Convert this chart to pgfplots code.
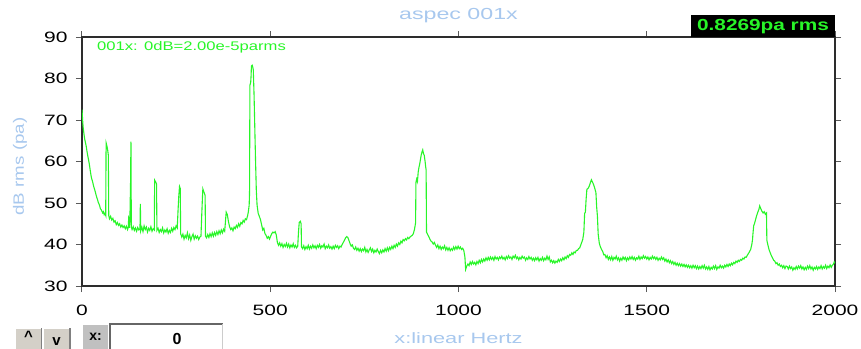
\documentclass[border=0pt]{standalone}
\usepackage{pgfplots}
\pgfplotsset{compat=1.18}
\usepackage{fontspec}
\setmainfont{Liberation Sans}
\newfontfamily\tickfont[FakeStretch=1.4]{Liberation Sans}
\newfontfamily\labelfont[FakeStretch=1.45]{Liberation Sans}
\newfontfamily\ylabfont[FakeStretch=1.25]{Liberation Sans}
\newfontfamily\notefont[FakeStretch=1.33]{Liberation Sans}
\newfontfamily\rmsfont[FakeStretch=1.3]{Liberation Sans Bold}
\newfontfamily\btnfont{Liberation Sans Bold}

\definecolor{trace}{RGB}{40,245,40}
\definecolor{labelblue}{RGB}{168,200,238}
\definecolor{frame}{RGB}{45,45,45}
\definecolor{tickgray}{RGB}{90,90,90}
\definecolor{btn}{RGB}{212,208,200}
\definecolor{lbl}{RGB}{192,192,192}

\begin{document}
\begin{tikzpicture}
\path[use as bounding box] (-82bp,-63bp) rectangle (779bp,286bp);
\begin{axis}[
  at={(0,0)}, anchor=south west,
  scale only axis, width=753bp, height=249bp,
  xmin=0, xmax=2000, ymin=30, ymax=90,
  xtick={0,500,...,2000}, ytick={30,40,...,90},
  tick align=outside, major tick length=6bp,
  axis line style={draw=frame, line width=1.5bp},
  tick style={draw=tickgray, line width=1bp},
  /pgf/number format/assume math mode=true,
  /pgf/number format/set thousands separator={},
  ticklabel style={font=\tickfont\fontsize{15bp}{15bp}\selectfont, text=black},
  xticklabel style={yshift=-10bp},
  yticklabel style={xshift=-5bp},
  title={aspec 001x},
  title style={at={(axis description cs:0.5,1.062)}, anchor=center,
    font=\labelfont\fontsize{16bp}{16bp}\selectfont, text=labelblue},
  xlabel={x:linear Hertz},
  xlabel style={at={(axis description cs:0.5,-0.209)}, anchor=center,
    font=\labelfont\fontsize{15bp}{15bp}\selectfont, text=labelblue},
  ylabel={dB rms (pa)},
  ylabel style={at={(axis description cs:-0.0823,0.48)}, anchor=center, rotate=0,
    font=\ylabfont\fontsize{15bp}{15bp}\selectfont, text=labelblue},
]
\addplot[trace, line width=1.1bp, mark=none] coordinates {
(0,72.5)(1,71.0)(2,69.5)(3,68.3)(5,66.8)(7,65.5)(9,64.6)(11,63.8)(13,62.6)(15,61.5)(17,60.6)(19,59.6)(21,58.4)(23,57.2)(25,56.1)(27,55.5)(29,54.8)(31,54.0)(33,53.4)(35,52.8)(37,52.1)(39,51.4)(41,50.9)(43,50.2)(45,49.8)(47,49.3)(49,48.6)(51,48.4)(53,48.0)(55,47.6)(57,47.9)(59,47.2)(61,47.5)(63,47.0)
(64,64.5)(66,63.8)(68,62.9)(70,61.5)(71,47.0)
(73,46.2)(76,46.8)(79,45.9)(82,46.3)(85,45.4)(88,45.7)(91,44.8)(94,45.3)(97,44.6)(100,45.0)(103,44.2)(106,44.7)(109,44.1)(112,44.5)(115,43.8)(118,44.4)(121,43.6)(123,44.2)(124,46.5)(125,46.3)(126,44.0)(127,45.0)(129,55.0)(130,64.8)(131,44.2)
(133,43.6)(136,44.3)(139,43.4)(142,44.0)(145,43.2)(148,44.1)(151,43.5)(154,43.8)(155,49.8)(156,43.3)(159,44.2)(162,43.1)(165,44.5)(168,43.6)(171,44.2)(174,43.0)(177,43.9)(180,43.4)(183,44.3)(186,43.2)(189,43.8)(192,43.5)
(193,55.5)(196,55.0)(198,54.6)(199,43.4)(202,43.9)(205,42.9)(208,43.6)(211,43.1)(214,44.0)(217,42.8)(220,43.5)(223,43.0)(226,43.8)(229,42.7)(232,43.4)(235,42.9)(238,43.9)(241,43.2)(244,44.1)(247,43.6)(250,44.5)(253,44.0)
(255,48.0)(257,51.5)(259,54.0)(261,53.5)(262,42.6)(265,41.8)(268,42.5)(271,41.3)(274,42.2)(277,41.6)(280,42.8)(283,41.4)(286,42.3)(289,41.0)(292,41.9)(295,42.5)(298,41.3)(301,42.1)(304,41.5)(307,42.0)(310,41.2)(313,41.8)
(316,42.0)(318,47.0)(320,51.5)(321,53.4)(324,52.6)(327,51.8)(328,42.0)(331,41.6)(334,42.4)(337,41.7)(340,42.6)(343,41.9)(346,42.8)(349,42.0)(352,42.9)(355,42.2)(358,43.1)(361,42.4)(364,43.3)(367,42.6)(370,43.5)(373,42.8)(376,43.7)
(379,43.2)(381,45.5)(383,47.8)(386,47.2)(389,45.5)(392,44.3)(395,43.6)(398,44.0)(401,43.3)(404,44.2)(407,43.8)(410,44.6)(413,44.1)(416,45.0)(419,44.4)(422,45.3)(425,45.0)(428,45.8)(431,45.4)(434,46.2)(437,46.0)(440,47.0)(442,48.0)(444,49.5)
(445,52.4)(446,78.4)(448,79.0)(449,80.5)(450,83.0)(452,83.2)(454,82.6)(455,82.0)(457,76.0)(459,68.0)(461,60.0)(463,53.0)(465,49.5)(468,47.5)(471,46.8)(474,46.0)
(477,44.8)(480,43.5)(483,43.9)(486,42.6)(489,42.2)(492,41.5)(495,41.9)(498,41.3)(501,42.0)(504,42.6)(507,43.0)(510,42.8)(513,43.1)(516,42.3)(519,40.5)(522,39.8)(525,40.4)(528,39.6)(531,40.2)(534,39.3)(537,40.0)(540,39.5)(543,40.3)(546,39.4)(549,40.1)(552,39.2)(555,39.9)(558,39.4)(561,40.2)(564,39.3)(567,39.8)(570,39.2)(573,39.6)
(575,43.0)(577,45.3)(580,45.6)(582,45.0)(583,39.4)(586,39.0)(589,39.7)(592,38.8)(595,39.5)(598,39.0)(601,39.8)(604,38.9)(607,39.6)(610,39.1)(613,39.9)(616,39.2)(619,39.7)(622,39.0)(625,39.8)(628,39.3)(631,40.0)(634,39.1)(637,39.7)(640,39.4)(643,40.1)(646,39.0)(649,39.6)(652,39.2)(655,39.9)(658,39.1)(661,39.5)(664,38.9)(667,39.6)(670,39.0)(673,39.8)(676,39.3)(679,39.7)(682,39.0)(685,39.6)(688,39.4)
(691,40.0)(694,40.5)(697,41.0)(700,41.6)(703,41.9)(706,41.7)(709,41.0)(712,40.2)(715,39.6)(718,39.9)(721,39.1)(724,38.8)(727,39.4)(730,38.6)(733,39.1)(736,38.4)(739,39.0)(742,38.3)(745,38.9)(748,38.5)(751,39.3)(754,38.2)(757,38.8)(760,38.1)(763,38.7)(766,39.2)(769,38.3)(772,38.9)(775,38.0)(778,38.6)(781,38.2)(784,38.9)(787,38.3)(790,37.8)(793,38.6)(796,38.0)(799,38.7)(802,38.2)(805,39.0)(808,38.4)(811,39.2)(814,38.5)(817,39.3)(820,38.8)(823,39.6)(826,39.0)(829,39.8)(832,39.3)(835,40.1)(838,39.6)(841,40.4)(844,40.0)(847,40.8)(850,40.4)(853,41.2)(856,40.9)(859,41.4)(862,41.1)(865,41.7)(868,41.4)(871,41.8)(874,42.0)(877,42.2)(880,42.6)(883,43.6)(886,45.2)
(887,55.0)(889,55.8)(891,55.2)(893,57.5)(895,58.6)(897,59.4)(899,60.5)(901,61.6)(903,62.3)(905,62.8)(907,61.9)(909,61.5)(911,60.2)(913,58.6)(914,58.0)(915,43.0)(918,42.4)(921,41.9)(924,41.3)(927,40.8)(930,40.6)(933,40.1)(936,40.5)(939,39.8)(942,39.3)(945,39.9)(948,39.0)(951,39.6)(954,38.8)(957,39.4)(960,39.0)(963,39.7)(966,38.7)(969,39.3)(972,38.6)(975,39.2)(978,38.5)(981,39.0)(984,38.6)(987,39.4)(990,38.8)(993,39.5)(996,38.9)(999,39.6)(1002,39.0)(1005,39.4)(1008,38.8)(1011,39.1)(1014,38.6)
(1017,37.0)(1019,34.0)(1022,34.8)(1025,35.3)(1028,34.9)(1031,35.8)(1034,35.2)(1037,35.9)(1040,35.3)(1043,35.7)(1046,35.1)(1049,35.9)(1052,35.4)(1055,36.2)(1058,35.6)(1061,36.4)(1064,35.8)(1067,36.5)(1070,36.0)(1073,36.8)(1076,36.2)(1079,36.9)(1082,36.3)(1085,37.0)(1088,36.4)(1091,36.9)(1094,36.2)(1097,37.1)(1100,36.5)(1103,36.9)(1106,36.3)(1109,37.0)(1112,36.6)(1115,37.2)(1118,36.5)(1121,36.9)(1124,36.3)(1127,37.1)(1130,36.6)(1133,37.3)(1136,36.7)(1139,37.0)(1142,36.4)(1145,37.2)(1148,36.8)(1151,37.4)(1154,36.6)(1157,37.0)(1160,36.3)(1163,36.9)(1166,36.5)(1169,37.2)(1172,36.7)(1175,37.0)(1178,36.2)(1181,36.8)(1184,36.4)(1187,37.1)(1190,36.5)(1193,36.9)(1196,36.2)(1199,36.7)
(1202,36.1)(1205,36.8)(1208,36.3)(1211,36.9)(1214,36.0)(1217,36.6)(1220,36.2)(1223,36.9)(1226,36.1)(1229,36.7)(1232,36.3)(1235,37.2)(1238,36.4)(1241,37.0)(1244,35.8)(1247,36.2)(1250,35.6)(1253,36.1)(1256,35.5)(1259,36.0)(1262,35.7)(1265,36.4)(1268,35.9)(1271,36.5)(1274,36.1)(1277,36.8)(1280,36.3)(1283,37.0)(1286,36.6)(1289,37.3)(1292,36.9)(1295,37.6)(1298,37.4)(1301,38.0)(1304,37.6)(1307,38.2)(1310,38.0)(1313,38.6)(1316,38.6)(1319,39.0)(1322,39.2)(1326,40.2)(1330,41.2)(1333,43.0)
(1335,47.5)(1337,47.8)(1339,51.0)(1341,53.3)(1344,53.5)(1347,54.0)(1350,54.8)(1353,55.6)(1356,55.0)(1359,54.4)(1362,53.5)(1365,52.5)(1367,49.0)(1369,46.8)(1371,42.5)(1374,40.3)(1377,39.4)(1380,38.8)(1383,38.3)(1386,37.5)(1389,37.6)(1392,36.8)(1395,37.3)(1398,36.4)(1401,37.0)
(1404,36.3)(1407,37.1)(1410,36.2)(1413,36.9)(1416,36.5)(1419,37.2)(1422,36.3)(1425,36.8)(1428,36.0)(1431,36.7)(1434,36.2)(1437,37.0)(1440,36.4)(1443,36.9)(1446,36.1)(1449,36.8)(1452,36.3)(1455,37.0)(1458,36.5)(1461,37.1)(1464,36.4)(1467,36.9)(1470,36.2)(1473,36.8)(1476,36.5)(1479,37.2)(1482,36.4)(1485,37.0)(1488,36.6)(1491,37.3)(1494,36.7)(1497,37.1)(1500,36.5)
(1503,37.0)(1506,36.3)(1509,36.9)(1512,36.5)(1515,37.2)(1518,36.6)(1521,37.0)(1524,36.4)(1527,36.9)(1530,36.2)(1533,36.7)(1536,36.3)(1539,37.0)(1542,36.4)(1545,36.8)(1548,36.0)(1551,36.5)(1554,35.8)(1557,36.3)(1560,35.6)(1563,36.1)(1566,35.4)(1569,35.9)(1572,35.2)(1575,35.7)(1578,35.0)(1581,35.5)(1584,34.9)(1587,35.4)(1590,34.8)(1593,35.3)(1596,34.7)(1599,35.2)
(1602,34.6)(1605,35.1)(1608,34.5)(1611,35.0)(1614,34.4)(1617,34.9)(1620,34.3)(1623,35.0)(1626,34.4)(1629,34.9)(1632,34.2)(1635,34.8)(1638,34.1)(1641,34.7)(1644,34.2)(1647,34.9)(1650,34.3)(1653,35.0)(1656,34.1)(1659,34.6)(1662,34.0)(1665,34.7)(1668,33.9)(1671,34.5)(1674,34.1)(1677,34.8)(1680,34.2)(1683,34.9)(1686,34.0)(1689,34.6)(1692,34.3)(1695,35.0)(1698,34.4)
(1701,34.8)(1704,34.3)(1707,35.0)(1710,34.6)(1713,35.2)(1716,34.7)(1719,35.3)(1722,34.9)(1725,35.5)(1728,35.1)(1731,35.7)(1734,35.4)(1737,36.0)(1740,35.7)(1743,36.2)(1746,35.9)(1749,36.4)(1752,36.2)(1755,36.7)(1758,36.5)(1761,37.0)(1764,36.9)(1767,37.4)(1770,37.8)(1773,38.3)(1776,38.8)(1779,40.0)(1781,41.2)(1782,42.5)(1784,44.5)(1786,45.0)(1789,46.0)(1792,47.0)(1795,47.8)(1798,48.5)(1800,49.3)
(1803,48.6)(1806,48.0)(1809,47.6)(1812,47.9)(1815,47.3)(1818,47.6)(1819,41.0)(1822,39.8)(1825,38.7)(1828,38.0)(1831,37.3)(1834,36.8)(1837,36.2)(1840,36.0)(1843,35.4)(1846,35.6)(1849,35.0)(1852,35.3)(1855,34.7)(1858,35.0)(1861,34.4)(1864,34.9)(1867,34.2)(1870,34.8)(1873,34.7)(1876,34.1)(1879,34.8)(1882,34.2)(1885,34.6)(1888,33.8)(1891,34.4)(1894,34.0)(1897,34.7)(1900,34.1)
(1903,34.8)(1906,34.3)(1909,34.9)(1912,34.1)(1915,34.6)(1918,33.9)(1921,34.5)(1924,34.0)(1927,34.8)(1930,34.2)(1933,34.9)(1936,34.1)(1939,34.6)(1942,33.8)(1945,34.5)(1948,34.1)(1951,34.7)(1954,34.0)(1957,34.6)(1960,34.2)(1963,34.9)(1966,34.1)(1969,34.7)(1972,34.3)(1975,35.0)(1978,34.2)(1981,34.8)(1984,34.4)(1987,35.1)(1990,34.5)(1993,35.0)(1996,35.3)(1998,35.8)(2000,35.5)
};
\end{axis}

% reference level note inside the plot area
\node[anchor=west, text=trace, inner sep=0pt,
  font=\notefont\fontsize{12.5bp}{12.5bp}\selectfont] at (15bp,239bp) {001x: 0dB=2.00e-5parms};

% overall rms readout
\node[fill=black, text=trace, inner sep=0pt, minimum width=144bp, minimum height=22bp,
  font=\rmsfont\fontsize{16bp}{16bp}\selectfont] at (681bp,259.5bp) {0.8269pa rms};

% spin buttons
\foreach \xa/\xb in {-67/-40, -39/-12} {
  \fill[btn] (\xa bp,-63bp) rectangle (\xb bp,-42bp);
  \draw[white, line width=1.5bp] (\xa bp,-63bp) -- (\xa bp,-42bp) -- (\xb bp,-42bp);
  \draw[gray, line width=1.5bp] (\xb bp,-42bp) -- (\xb bp,-63bp);
}
\node[font=\btnfont\fontsize{15bp}{15bp}\selectfont, inner sep=0pt] at (-53.5bp,-50bp) {\^{}};
\node[font=\btnfont\fontsize{15bp}{15bp}\selectfont, inner sep=0pt] at (-25.5bp,-56bp) {v};

% cursor x readout
\fill[lbl] (1bp,-63bp) rectangle (26bp,-39bp);
\node[font=\btnfont\fontsize{14bp}{14bp}\selectfont, inner sep=0pt] at (13.5bp,-51bp) {x:};
\fill[white] (27bp,-63bp) rectangle (141bp,-37bp);
\draw[gray!80!black, line width=2bp] (28bp,-63bp) -- (28bp,-38bp) -- (141bp,-38bp);
\draw[gray!40, line width=1bp] (140.5bp,-38bp) -- (140.5bp,-63bp);
\node[font=\btnfont\fontsize{16bp}{16bp}\selectfont, inner sep=0pt] at (95bp,-53bp) {0};
\end{tikzpicture}
\end{document}
